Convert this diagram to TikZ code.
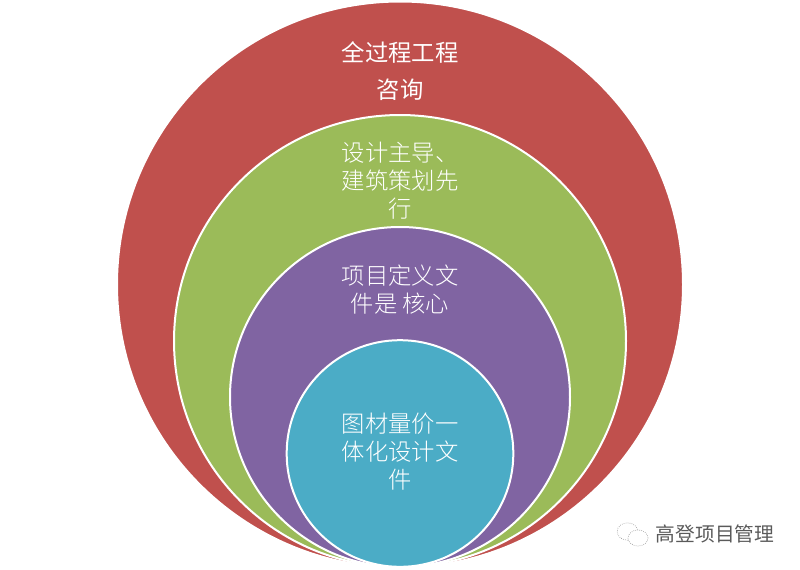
\documentclass[tikz,border=0pt]{standalone}
\usepackage{fontspec}
\usepackage{tikz}
\usetikzlibrary{positioning,shapes.geometric}
\newfontfamily\cjk{Noto Sans CJK SC}
\newfontfamily\cjklight{Noto Sans CJK SC Light}
\definecolor{ringred}{RGB}{192,80,77}
\definecolor{ringgreen}{RGB}{155,187,89}
\definecolor{ringpurple}{RGB}{128,100,162}
\definecolor{ringblue}{RGB}{75,172,198}
\definecolor{marktext}{RGB}{90,90,90}
\definecolor{markicon}{RGB}{150,150,150}

\begin{document}
\begin{tikzpicture}[
  x=0.75pt, y=-0.75pt,
  ring/.style={circle, draw=white, line width=1.5pt, inner sep=0pt},
  label/.style={text=white, align=center, font=\cjklight\fontsize{17.5pt}{21pt}\selectfont, inner sep=0pt},
  bubble/.style={ellipse, draw=markicon, densely dotted, line width=0.5pt, fill=white, inner sep=0pt}
]
\useasboundingbox (0,0) rectangle (800,569);
\node[ring, fill=ringred, minimum size=424.5pt] (outer) at (400,284.5) {};
\node[ring, fill=ringgreen, minimum size=339pt] (design) at (400,341) {};
\node[ring, fill=ringpurple, minimum size=255pt] (define) at (400,397) {};
\node[ring, fill=ringblue, minimum size=170pt] (core) at (400,453.5) {};
\node[label, font=\cjk\fontsize{17.5pt}{27.5pt}\selectfont] (outertext) at (400,71) {全过程工程\\咨询};
\node[label] (designtext) at (400,181) {设计主导、\\建筑策划先\\行};
\node[label] (definetext) at (400,290) {项目定义文\\件是 核心};
\node[label] (coretext) at (400,452) {图材量价一\\体化设计文\\件};
% watermark
\node[bubble, minimum width=15.5pt, minimum height=13pt] (bubbleleft) at (627.5,531.5) {};
\node[bubble, minimum width=15pt, minimum height=12pt] (bubbleright) at (638,538) {};
\node[text=marktext, inner sep=0pt, font=\cjk\fontsize{14.8pt}{18pt}\selectfont] (marktitle) at (715,534) {高登项目管理};
\end{tikzpicture}
\end{document}
